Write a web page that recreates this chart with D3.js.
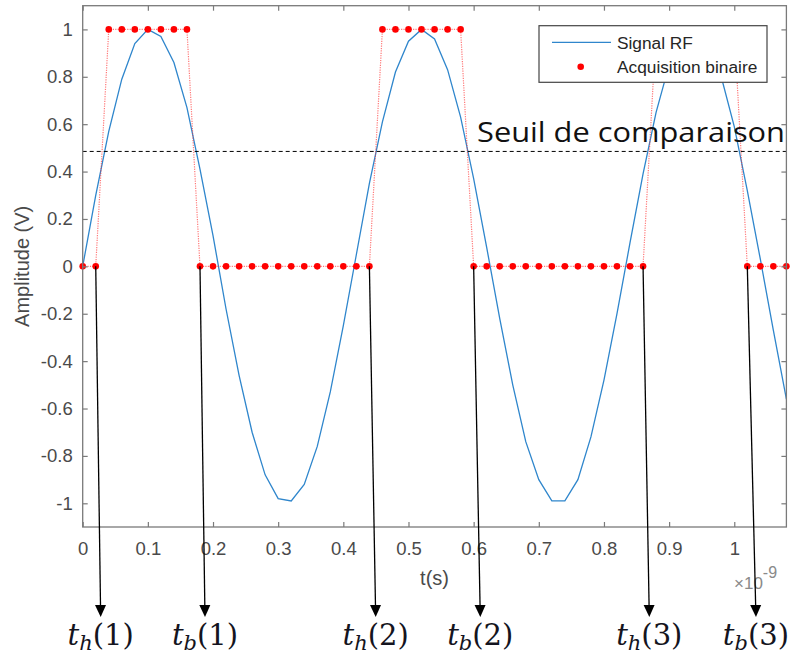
<!DOCTYPE html>
<html><head><meta charset="utf-8">
<script src="https://cdn.jsdelivr.net/npm/d3@7"></script>
<style>body{margin:0;background:#fff}svg{display:block}</style>
</head><body>
<script>
// ---- data (t in ns) ----
const tSamples = [0,0.02,0.04,0.06,0.08,0.10,0.12,0.14,0.16,0.18,0.20,0.22,0.24,0.26,0.28,0.30,0.32,0.34,0.36,0.38,0.40,0.42,0.44,0.46,0.48,0.50,0.52,0.54,0.56,0.58,0.60,0.62,0.64,0.66,0.68,0.70,0.72,0.74,0.76,0.78,0.80,0.82,0.84,0.86,0.88,0.90,0.92,0.94,0.96,0.98,1.00,1.02,1.04,1.06,1.08];
const signalRF = [0,0.30,0.57,0.79,0.94,1.00,0.97,0.86,0.67,0.41,0.13,-0.18,-0.46,-0.70,-0.88,-0.98,-0.99,-0.92,-0.76,-0.53,-0.25,0.05,0.35,0.61,0.82,0.95,1.00,0.96,0.83,0.63,0.37,0.08,-0.22,-0.50,-0.74,-0.90,-0.99,-0.99,-0.90,-0.72,-0.48,-0.20,0.10,0.39,0.65,0.85,0.97,1.00,0.94,0.80,0.59,0.32,0.03,-0.27,-0.56];
const binaire = [0,0,1,1,1,1,1,1,1,0,0,0,0,0,0,0,0,0,0,0,0,0,0,1,1,1,1,1,1,1,0,0,0,0,0,0,0,0,0,0,0,0,0,0,1,1,1,1,1,1,1,0,0,0,0];
const seuil = 0.485;
const xTicks = [0,0.1,0.2,0.3,0.4,0.5,0.6,0.7,0.8,0.9,1];
const yTicks = [-1,-0.8,-0.6,-0.4,-0.2,0,0.2,0.4,0.6,0.8,1];
const arrowNames = ["h","b","h","b","h","b"];
const arrowIdx = ["1","1","2","2","3","3"];
const arrowStart = [0.02,0.18,0.44,0.60,0.86,1.02];
const arrowEnd = [0.0276,0.1877,0.4497,0.6102,0.8696,1.0333];
const legendLabels = ["Signal RF","Acquisition binaire"];

const W=790,H=660;
const svg=d3.select("body").append("svg").attr("width",W).attr("height",H);
const x=d3.scaleLinear().domain([0,1.08]).range([82.7,786.4]);
const y=d3.scaleLinear().domain([-1.1,1.1]).range([527,5.7]);
const axisCol="#7a7a7a", labCol="#4a4a4a";
const blue="#2f86cc";
const sans="Liberation Sans, Arial, sans-serif";

// data
const pts=tSamples.map((t,i)=>({t,v:signalRF[i],b:binaire[i]}));
svg.append("path").datum(pts).attr("fill","none").attr("stroke",blue).attr("stroke-width",1.3)
  .attr("d",d3.line().x(d=>x(d.t)).y(d=>y(d.v)));
svg.append("path").datum(pts).attr("fill","none").attr("stroke","#ff3030").attr("stroke-opacity",0.65)
  .attr("stroke-width",1.2).attr("stroke-dasharray","1.2,1.2")
  .attr("d",d3.line().x(d=>x(d.t)).y(d=>y(d.b)));
svg.append("g").selectAll("circle").data(pts).join("circle")
  .attr("cx",d=>x(d.t)).attr("cy",d=>y(d.b)).attr("r",3.3).attr("fill","#ff0000");

// threshold
svg.append("line").attr("x1",x(0)).attr("x2",x(1.08)).attr("y1",y(seuil)).attr("y2",y(seuil))
  .attr("stroke","#000").attr("stroke-width",1).attr("stroke-dasharray","4,3");

// axes
const ax=svg.append("g");
ax.append("rect").attr("x",x(0)).attr("y",y(1.1)).attr("width",x(1.08)-x(0)).attr("height",y(-1.1)-y(1.1))
  .attr("fill","none").attr("stroke",axisCol).attr("stroke-width",1.3);
const gx=ax.append("g").attr("transform",`translate(0,${y(-1.1)})`)
  .call(d3.axisBottom(x).tickValues(xTicks).tickSizeInner(-5).tickSizeOuter(0).tickPadding(15).tickFormat(d3.format("~g")));
const gxt=ax.append("g").attr("transform",`translate(0,${y(1.1)})`)
  .call(d3.axisTop(x).tickValues(xTicks).tickSizeInner(-5).tickSizeOuter(0).tickFormat(""));
const gy=ax.append("g").attr("transform",`translate(${x(0)},0)`)
  .call(d3.axisLeft(y).tickValues(yTicks).tickSizeInner(-5).tickSizeOuter(0).tickPadding(10).tickFormat(d3.format("~g")));
const gyr=ax.append("g").attr("transform",`translate(${x(1.08)},0)`)
  .call(d3.axisRight(y).tickValues(yTicks).tickSizeInner(-5).tickSizeOuter(0).tickFormat(""));
[gx,gxt,gy,gyr].forEach(g=>{
  g.select(".domain").remove();
  g.selectAll("line").attr("stroke",axisCol).attr("stroke-width",1.2);
  g.selectAll("text").attr("fill",labCol).attr("font-family",sans).attr("font-size",18.5);
});
gy.selectAll("text").text(d=>d3.format("~g")(d).replace("−","-"));

svg.append("text").attr("x",(x(0)+x(1.08))/2).attr("y",585).attr("text-anchor","middle")
  .attr("font-family",sans).attr("font-size",20).attr("fill",labCol).text("t(s)");
svg.append("text").attr("transform",`translate(29,${(y(1.1)+y(-1.1))/2}) rotate(-90)`).attr("text-anchor","middle")
  .attr("font-family",sans).attr("font-size",20).attr("fill",labCol).text("Amplitude (V)");
const ex=svg.append("text").attr("x",734).attr("y",589).attr("font-family",sans)
  .attr("font-size",17).attr("fill","#8a8a8a");
ex.append("tspan").text("×10");
ex.append("tspan").attr("dy",-11).attr("font-size",16).text("-9");

// legend
const lg=svg.append("g");
lg.append("rect").attr("x",539).attr("y",25.7).attr("width",228).attr("height",56.6)
  .attr("fill","#fff").attr("stroke","#444").attr("stroke-width",1.2);
lg.append("line").attr("x1",552).attr("x2",611).attr("y1",42.3).attr("y2",42.3).attr("stroke",blue).attr("stroke-width",1.3);
lg.append("circle").attr("cx",580.7).attr("cy",66.7).attr("r",3.3).attr("fill","#ff0000");
lg.selectAll("text.l").data(legendLabels).join("text").attr("class","l")
  .attr("x",617).attr("y",(d,i)=>48.5+i*24.3).attr("font-family",sans)
  .attr("font-size",17.3).attr("fill","#262626").text(d=>d);

// threshold caption
svg.append("text").attr("x",477).attr("y",142).attr("font-family","Open Sans, Noto Sans, sans-serif")
  .attr("font-size",28).attr("fill","#111").attr("textLength",308).attr("lengthAdjust","spacingAndGlyphs")
  .text("Seuil de comparaison");

// arrows
const ar=svg.append("g");
arrowStart.forEach((t0,i)=>{
  const x0=x(t0),y0=y(0),x1=x(arrowEnd[i]),tipY=617,baseY=605;
  const xb=x0+(x1-x0)*(baseY-y0)/(tipY-y0);
  ar.append("line").attr("x1",x0).attr("y1",y0).attr("x2",xb).attr("y2",baseY+1)
    .attr("stroke","#000").attr("stroke-width",1.3);
  ar.append("path").attr("d",`M${xb-5.5},${baseY}L${xb+5.5},${baseY}L${x1},${tipY}Z`).attr("fill","#000");
  const tx=ar.append("text").attr("x",x1).attr("y",645).attr("text-anchor","middle")
    .attr("font-family","DejaVu Serif, serif").attr("font-size",29).attr("fill","#141420");
  tx.append("tspan").attr("font-style","italic").text("t");
  tx.append("tspan").attr("font-style","italic").attr("font-size",21).attr("dy",5).text(arrowNames[i]);
  tx.append("tspan").attr("dy",-5).text("(" + arrowIdx[i] + ")");
});
</script>
</body></html>
